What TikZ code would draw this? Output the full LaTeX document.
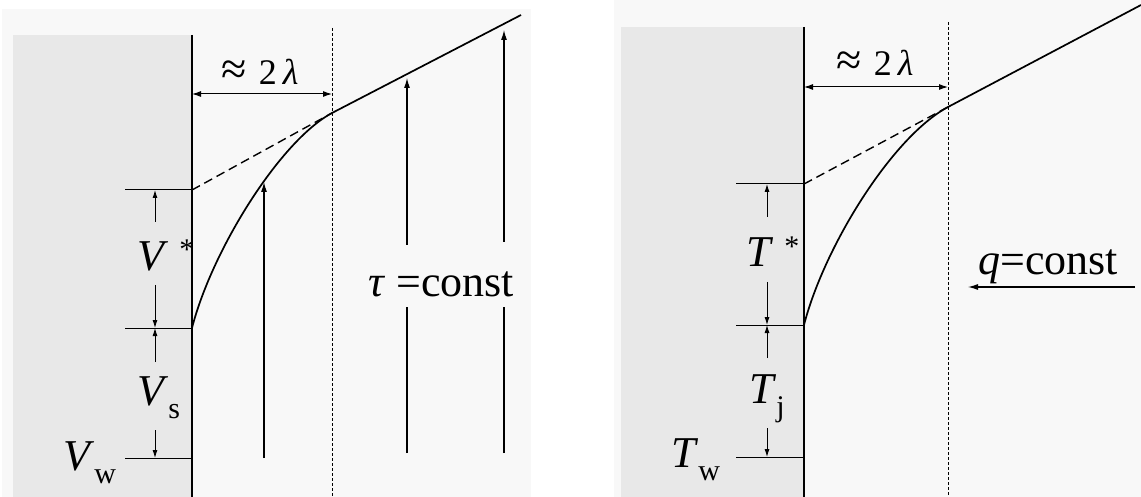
\documentclass[tikz,border=0pt]{standalone}
\usepackage{fontspec}
\setmainfont{Liberation Serif}
\usetikzlibrary{arrows.meta,positioning}
\definecolor{panelbg}{HTML}{F8F8F8}
\definecolor{wallgray}{HTML}{E8E8E8}
\newcommand{\bigsz}{\fontsize{44}{48}\selectfont}
\newcommand{\midsz}{\fontsize{36}{38}\selectfont}
\newcommand{\idxsz}{\fontsize{30}{32}\selectfont}
\newcommand{\lblstar}[1]{\textit{#1}\hspace{0.25em}\raisebox{10pt}{\idxsz *}}
\newcommand{\lblsub}[2]{\textit{#1}\raisebox{-0.3em}{\idxsz #2}}
\newcommand{\lblwidth}{{\fontsize{46}{46}\selectfont≈}\,\,2\,\textit{λ}}
\tikzset{
  wall/.style={line width=1.6pt},
  tick/.style={line width=1pt},
  guide/.style={line width=0.5pt,dash pattern=on 3pt off 2pt},
  profile/.style={line width=1.7pt},
  tangent/.style={line width=1.4pt,dash pattern=on 9pt off 5pt},
  dimarrow/.style={line width=0.9pt,-{Latex[length=8pt,width=5pt]}},
  spanarrow/.style={line width=1pt,{Latex[length=9pt,width=6pt]}-{Latex[length=9pt,width=6pt]}},
  stem/.style={line width=1.1pt},
  longarrow/.style={stem,-{Latex[length=10pt,width=6pt]}},
  lbl/.style={inner sep=0pt,anchor=base west,font=\bigsz},
}
\begin{document}
\begin{tikzpicture}[x=1pt,y=-1pt]
\useasboundingbox (0,0) rectangle (1141,497);
% panels
\fill[panelbg] (2,9) rectangle (531,497);
\fill[panelbg] (614,0) rectangle (1141,497);
\fill[wallgray] (13,35) rectangle (192,497);
\fill[wallgray] (621,27) rectangle (804,497);

%%% left panel: velocity
\coordinate (Lwtop) at (192,35);
\coordinate (Lwbot) at (192,497);
\coordinate (Lgtop) at (332,28);
\coordinate (Lgbot) at (332,497);
\coordinate (Lstar) at (192,190);
\coordinate (Lsub) at (192,328);
\coordinate (Lw) at (192,458);
\coordinate (Ltan) at (332,113);
\coordinate (Lend) at (521,15);
\draw[wall] (Lwtop) -- (Lwbot);
\draw[guide] (Lgtop) -- (Lgbot);
\draw[tick] (Lstar) -- (125,190);
\draw[tick] (Lsub) -- (125,328);
\draw[tick] (Lw) -- (125,458);
% dimension arrows
\draw[dimarrow] (155,222) -- (155,190);
\draw[dimarrow] (155,285) -- (155,328);
\draw[dimarrow] (155,362) -- (155,328);
\draw[dimarrow] (155,430) -- (155,458);
\node[lbl] (Vstar) at (137,270) {\lblstar{V}};
\node[lbl] (Vs) at (137,405) {\lblsub{V}{s}};
\node[lbl] (Vw) at (63,470) {\lblsub{V}{w}};
% width of the layer
\coordinate (Lsa) at (192,94);
\coordinate (Lsb) at (332,94);
\draw[spanarrow] (Lsa) -- (Lsb);
\node[inner sep=0pt,anchor=base,font=\midsz] (Llam) at (260,85) {\lblwidth};
% profile
\draw[profile] (Lsub) .. controls (212,250) and (280,141) .. (Ltan) -- (Lend);
\draw[tangent] (Lstar) -- (Ltan);
% shear stress arrows
\draw[longarrow] (264,458) -- (264,182);
\draw[stem] (407,453) -- (407,307);
\draw[longarrow] (407,245) -- (407,78);
\draw[stem] (504,453) -- (504,307);
\draw[longarrow] (504,242) -- (504,30);
\node[lbl] (tau) at (368,297) {\textit{τ} =const};

%%% right panel: temperature
\coordinate (Rwtop) at (804,27);
\coordinate (Rwbot) at (804,497);
\coordinate (Rgtop) at (948,22);
\coordinate (Rgbot) at (948,497);
\coordinate (Rstar) at (804,184);
\coordinate (Rsub) at (804,325);
\coordinate (Rw) at (804,457);
\coordinate (Rtan) at (948,107);
\coordinate (Rend) at (1141,5);
\draw[wall] (Rwtop) -- (Rwbot);
\draw[guide] (Rgtop) -- (Rgbot);
\draw[tick] (Rstar) -- (736,184);
\draw[tick] (Rsub) -- (736,325);
\draw[tick] (Rw) -- (736,457);
% dimension arrows
\draw[dimarrow] (767,217) -- (767,184);
\draw[dimarrow] (767,282) -- (767,325);
\draw[dimarrow] (767,358) -- (767,325);
\draw[dimarrow] (767,428) -- (767,457);
\node[lbl] (Tstar) at (746,267) {\lblstar{T}};
\node[lbl] (Tj) at (749,403) {\lblsub{T}{j}};
\node[lbl] (Tw) at (671,467) {\lblsub{T}{w}};
% width of the layer
\coordinate (Rsa) at (804,87);
\coordinate (Rsb) at (948,87);
\draw[spanarrow] (Rsa) -- (Rsb);
\node[inner sep=0pt,anchor=base,font=\midsz] (Rlam) at (875,76) {\lblwidth};
% profile
\draw[profile] (Rsub) .. controls (824,247) and (892,137) .. (Rtan) -- (Rend);
\draw[tangent] (Rstar) -- (Rtan);
% heat flux
\node[lbl] (qc) at (978,275) {\textit{q}=const};
\coordinate (Rqa) at (1135,287);
\coordinate (Rqb) at (968,287);
\draw[longarrow] (Rqa) -- (Rqb);
\end{tikzpicture}
\end{document}
